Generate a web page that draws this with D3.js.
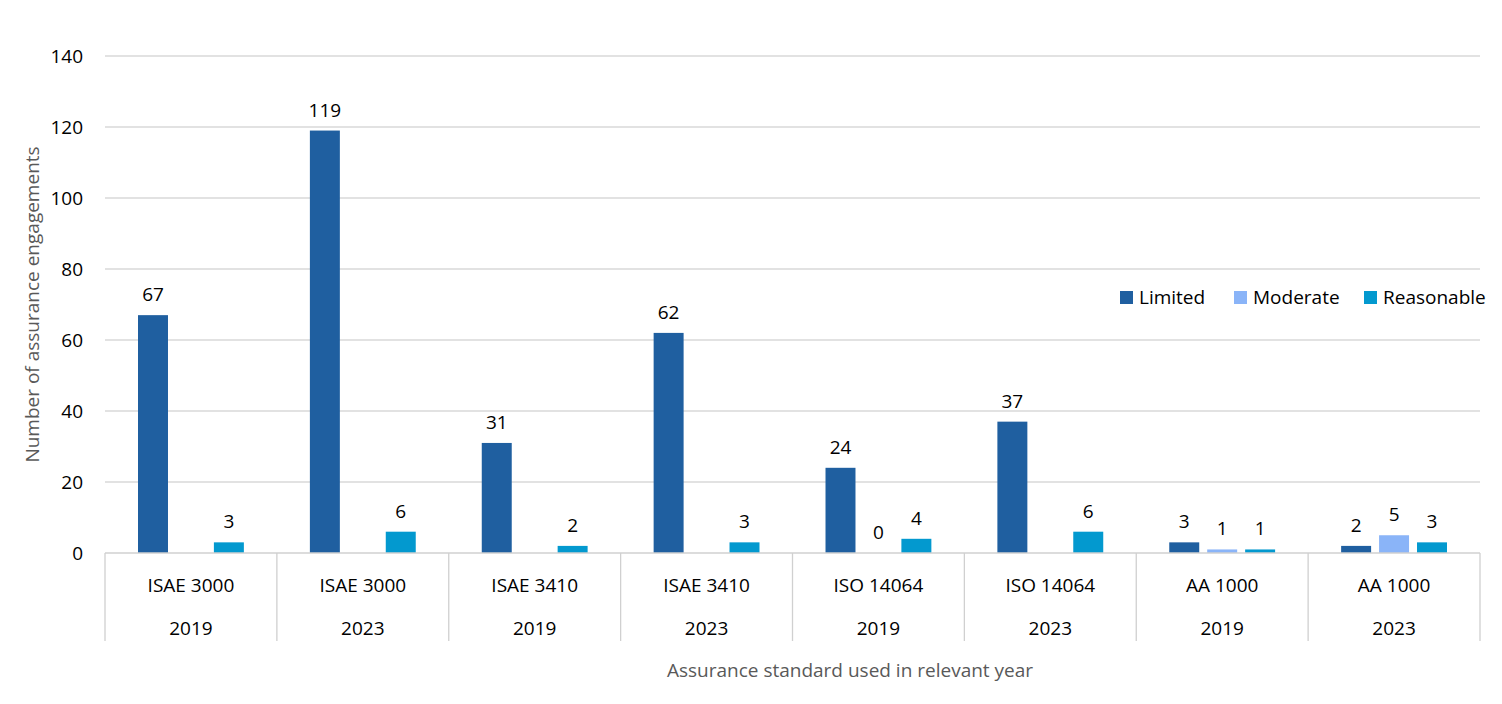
<!DOCTYPE html>
<html>
<head>
<meta charset="utf-8">
<script src="https://cdn.jsdelivr.net/npm/d3@7"></script>
<style>
  body { margin: 0; background: #fff; }
  text { font-family: "Open Sans", "Noto Sans", sans-serif; }
</style>
</head>
<body>
<div id="chart"></div>
<script>
// chart data
const standards = ["ISAE 3000", "ISAE 3000", "ISAE 3410", "ISAE 3410", "ISO 14064", "ISO 14064", "AA 1000", "AA 1000"];
const years = ["2019", "2023", "2019", "2023", "2019", "2023", "2019", "2023"];
const seriesNames = ["Limited", "Moderate", "Reasonable"];
const limited = [67, 119, 31, 62, 24, 37, 3, 2];
const moderate = [null, null, null, null, 0, null, 1, 5];
const reasonable = [3, 6, 2, 3, 4, 6, 1, 3];
const yTicks = [0, 20, 40, 60, 80, 100, 120, 140];
const colors = ["#1f5fa0", "#8ab4f8", "#0399cf"];

const width = 1502, height = 704;
const margin = {top: 56, right: 22, bottom: 151, left: 105};
const innerW = width - margin.left - margin.right;
const innerH = height - margin.top - margin.bottom;
const fs = 19;

const svg = d3.select("#chart").append("svg")
    .attr("width", width)
    .attr("height", height);

const g = svg.append("g")
    .attr("transform", `translate(${margin.left},${margin.top})`);

const groups = d3.range(standards.length);
const seriesValues = [limited, moderate, reasonable];

const x0 = d3.scaleBand().domain(groups).range([0, innerW]);
const x1 = d3.scaleBand().domain(seriesNames).range([0, x0.bandwidth()])
    .paddingInner(0.21).paddingOuter(0.87);
const y = d3.scaleLinear().domain([0, 140]).range([innerH, 0]);

// gridlines
g.append("g").selectAll("line")
    .data(yTicks.filter(t => t > 0))
    .join("line")
    .attr("x1", 0).attr("x2", innerW)
    .attr("y1", d => y(d)).attr("y2", d => y(d))
    .attr("stroke", "#d9d9d9")
    .attr("stroke-width", 1.3);

// y tick labels
g.append("g").selectAll("text")
    .data(yTicks)
    .join("text")
    .attr("x", -22)
    .attr("y", d => y(d))
    .attr("dy", "0.35em")
    .attr("text-anchor", "end")
    .attr("font-size", fs)
    .attr("fill", "#000")
    .text(d => d);

// bars
const groupG = g.append("g").selectAll("g")
    .data(groups)
    .join("g")
    .attr("transform", i => `translate(${x0(i)},0)`);

groupG.selectAll("rect")
    .data(i => seriesNames.map((s, k) => ({s, k, v: seriesValues[k][i]})).filter(d => d.v !== null))
    .join("rect")
    .attr("x", d => x1(d.s))
    .attr("width", x1.bandwidth())
    .attr("y", d => y(d.v))
    .attr("height", d => innerH - y(d.v))
    .attr("fill", d => colors[d.k]);

groupG.selectAll("text")
    .data(i => seriesNames.map((s, k) => ({s, k, v: seriesValues[k][i]})).filter(d => d.v !== null))
    .join("text")
    .attr("x", d => x1(d.s) + x1.bandwidth() / 2)
    .attr("y", d => y(d.v) - 14)
    .attr("text-anchor", "middle")
    .attr("font-size", fs)
    .attr("fill", "#000")
    .text(d => d.v);

// category axis
const axisG = g.append("g").attr("transform", `translate(0,${innerH})`);
axisG.append("line")
    .attr("x1", 0).attr("x2", innerW)
    .attr("stroke", "#d0d0d0").attr("stroke-width", 1.3);
axisG.selectAll(".sep")
    .data(d3.range(standards.length + 1))
    .join("line")
    .attr("class", "sep")
    .attr("x1", i => i < standards.length ? x0(i) : innerW)
    .attr("x2", i => i < standards.length ? x0(i) : innerW)
    .attr("y1", 0).attr("y2", 88)
    .attr("stroke", "#d0d0d0").attr("stroke-width", 1.3);
axisG.selectAll(".std")
    .data(groups)
    .join("text")
    .attr("class", "std")
    .attr("x", i => x0(i) + x0.bandwidth() / 2)
    .attr("y", 39)
    .attr("text-anchor", "middle")
    .attr("font-size", fs)
    .text(i => standards[i]);
axisG.selectAll(".yr")
    .data(groups)
    .join("text")
    .attr("class", "yr")
    .attr("x", i => x0(i) + x0.bandwidth() / 2)
    .attr("y", 82)
    .attr("text-anchor", "middle")
    .attr("font-size", fs)
    .text(i => years[i]);

// axis titles
svg.append("text")
    .attr("x", 850)
    .attr("y", 677)
    .attr("text-anchor", "middle")
    .attr("font-size", fs)
    .attr("fill", "#595959")
    .text("Assurance standard used in relevant year");

svg.append("text")
    .attr("transform", `translate(39,${margin.top + innerH / 2}) rotate(-90)`)
    .attr("text-anchor", "middle")
    .attr("font-size", fs)
    .attr("fill", "#595959")
    .text("Number of assurance engagements");

// legend
const legendX = [1120, 1234, 1364];
const legend = svg.append("g").selectAll("g")
    .data(seriesNames)
    .join("g")
    .attr("transform", (d, k) => `translate(${legendX[k]},297)`);
legend.append("rect")
    .attr("x", 0).attr("y", -6)
    .attr("width", 13).attr("height", 13)
    .attr("fill", (d, k) => colors[k]);
legend.append("text")
    .attr("x", 19).attr("y", 0)
    .attr("dy", "0.35em")
    .attr("font-size", fs)
    .text(d => d);
</script>
</body>
</html>
